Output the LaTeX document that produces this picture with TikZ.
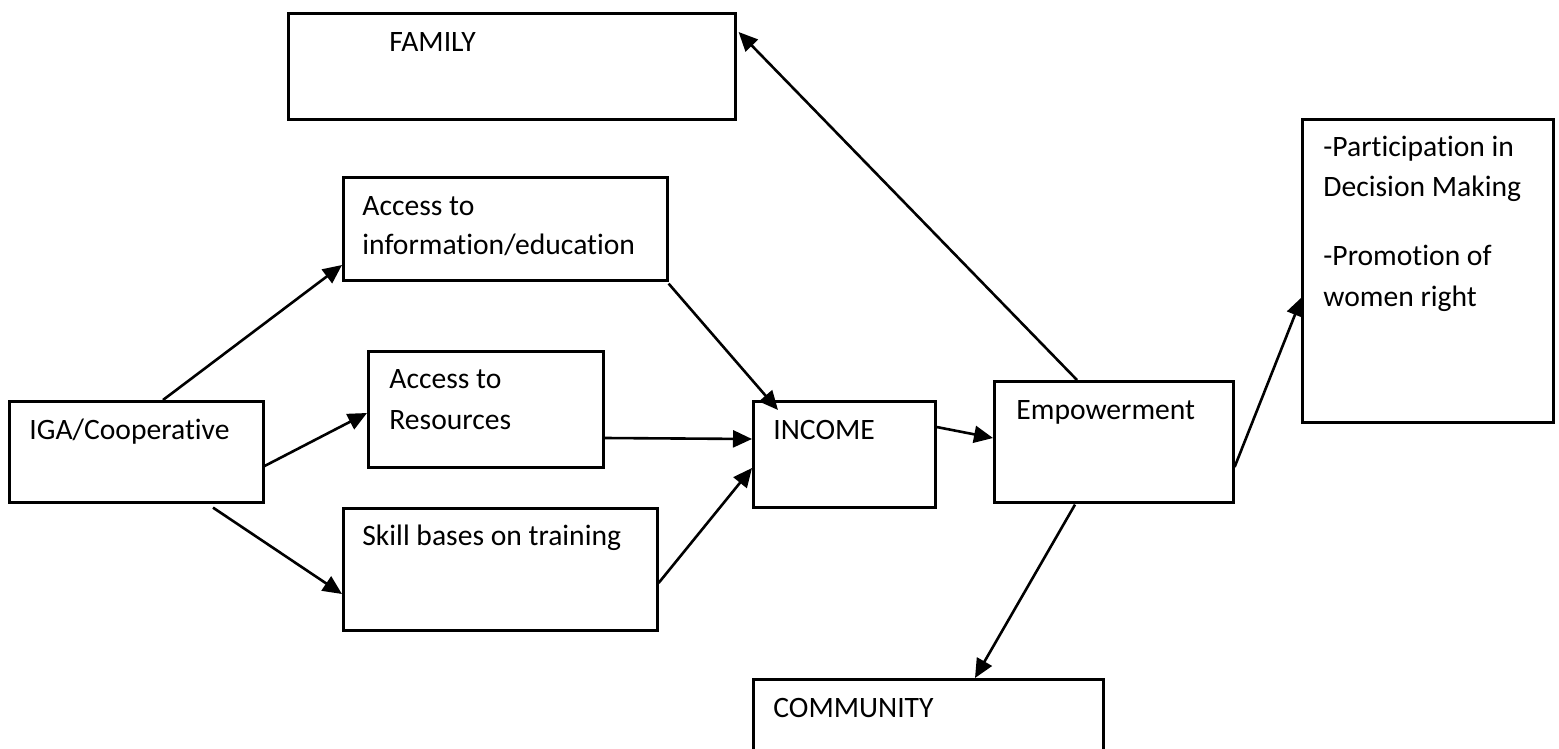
\documentclass[tikz,border=0pt]{standalone}
\usepackage{fontspec}
\setmainfont{Carlito}[Ligatures={NoCommon}]
\usetikzlibrary{arrows.meta,calc}
\tikzset{
  box/.style={draw=black, line width=1.3pt, rectangle, inner sep=0pt, anchor=north west},
  txt/.style={anchor=base west, inner sep=0pt, font=\fontsize{14.8pt}{20pt}\selectfont},
  conn/.style={line width=1.3pt, -{Triangle[length=9.5pt,width=8.5pt]}}
}
\begin{document}
\begin{tikzpicture}[x=0.5pt,y=-0.5pt]
\useasboundingbox (0,0) rectangle (1559,749);
% boxes
\node[box, minimum width=223.5pt, minimum height=53pt] (family) at (287,12) {};
\node[box, minimum width=162pt, minimum height=51.5pt] (info) at (342,176) {};
\node[box, minimum width=117.5pt, minimum height=58pt] (res) at (367,350) {};
\node[box, minimum width=127pt, minimum height=50.5pt] (iga) at (8,400) {};
\node[box, minimum width=157pt, minimum height=61pt] (skill) at (342,507) {};
\node[box, minimum width=91pt, minimum height=53pt] (income) at (752,400) {};
\node[box, minimum width=119.5pt, minimum height=60.5pt] (emp) at (993,380) {};
\node[box, minimum width=175pt, minimum height=45pt] (comm) at (752,678) {};
\node[box, minimum width=125.5pt, minimum height=151.5pt] (right) at (1301,118) {};
% texts
\node[txt] (tfamily) at (389,52) {FAMILY};
\node[txt] (tinfo1) at (362,215) {Access to};
\node[txt] (tinfo2) at (362,255) {information/education};
\node[txt] (tres1) at (389,388) {Access to};
\node[txt] (tres2) at (389,429) {Resources};
\node[txt] (tiga) at (29,439) {IGA/Cooperative};
\node[txt] (tskill) at (362,545) {Skill bases on training};
\node[txt] (tincome) at (773,439) {INCOME};
\node[txt] (temp) at (1016,419) {Empowerment};
\node[txt] (tcomm) at (773,717) {COMMUNITY};
\node[txt] (tr1) at (1323,156) {-Participation in};
\node[txt] (tr2) at (1323,197) {Decision Making};
\node[txt] (tr3) at (1323,265) {-Promotion of};
\node[txt] (tr4) at (1323,306) {women right};
% connectors
\draw[conn] ($(iga.north west)+(155,0)$) -- ($(info.north west)+(0,89)$);
\draw[conn] ($(iga.north east)+(0,66)$) -- ($(res.north west)+(0,63)$);
\draw[conn] ($(iga.south west)+(205,4)$) -- ($(skill.north west)+(0,87)$);
\draw[conn] ($(info.south east)+(0,2)$) -- ($(income.north west)+(26,10)$);
\draw[conn] ($(res.north east)+(0,88)$) -- ($(income.north west)+(0,39)$);
\draw[conn] ($(skill.north east)+(0,76)$) -- ($(income.north west)+(0,68)$);
\draw[conn] ($(income.north east)+(0,27)$) -- ($(emp.north west)+(0,58)$);
\draw[conn] ($(emp.north west)+(84,0)$) -- ($(family.north east)+(2,20)$);
\draw[conn] ($(emp.north east)+(0,87)$) -- ($(right.north west)+(1,179)$);
\draw[conn] ($(emp.south west)+(82,1)$) -- ($(comm.north west)+(223,0)$);
\end{tikzpicture}
\end{document}
